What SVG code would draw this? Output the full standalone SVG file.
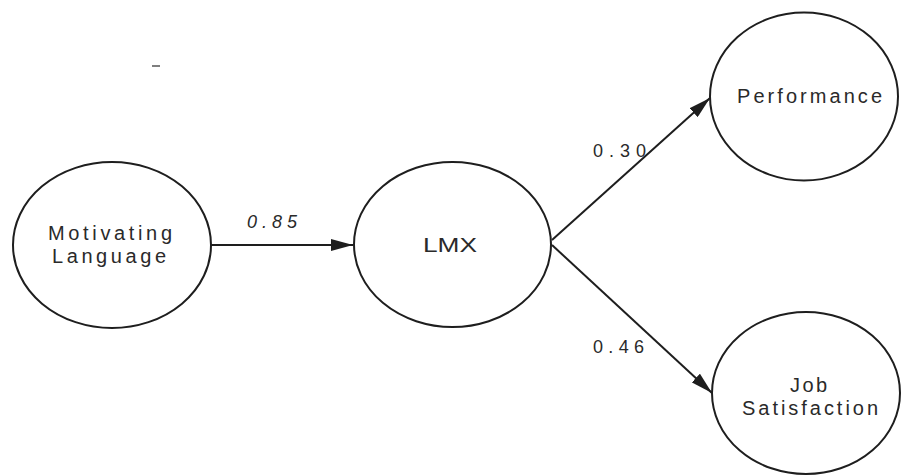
<svg xmlns="http://www.w3.org/2000/svg" width="901" height="476" viewBox="0 0 901 476">
<style>
.node ellipse{fill:none;stroke:#1e1e1e;stroke-width:2}
.lbl{font-family:"Liberation Sans",Arial,sans-serif;fill:#2a2a2a;font-size:20px}
.edge line{stroke:#1e1e1e;stroke-width:2}
.w{font-family:"Liberation Sans",Arial,sans-serif;fill:#2a2a2a;font-size:18px}
</style>
<defs>
<marker id="ah" viewBox="0 0 22 12" refX="22" refY="6" markerWidth="22" markerHeight="12" markerUnits="userSpaceOnUse" orient="auto">
<path d="M0,0 L22,6 L0,12 Z" fill="#1e1e1e"/>
</marker>
</defs>
<rect width="901" height="476" fill="#ffffff"/>
<line x1="152" y1="66" x2="160" y2="66" stroke="#555" stroke-width="1.5"/>
<g id="edges" class="edge">
<line x1="211" y1="245" x2="353" y2="245" marker-end="url(#ah)"/>
<line x1="552" y1="240" x2="710" y2="98" marker-end="url(#ah)"/>
<line x1="552" y1="245" x2="712" y2="393" marker-end="url(#ah)"/>
<text class="w" x="247" y="228" textLength="50" lengthAdjust="spacing" font-style="italic">0.85</text>
<text class="w" x="593" y="157" textLength="53" lengthAdjust="spacing">0.30</text>
<text class="w" x="593" y="353" textLength="51" lengthAdjust="spacing">0.46</text>
</g>
<g id="motivating-language" class="node">
<ellipse cx="112" cy="245" rx="99" ry="83"/>
<text class="lbl" x="48" y="240" textLength="124" lengthAdjust="spacing">Motivating</text>
<text class="lbl" x="52" y="263" textLength="114" lengthAdjust="spacing">Language</text>
</g>
<g id="lmx" class="node">
<ellipse cx="452.5" cy="244.5" rx="98.5" ry="82.5"/>
<text class="lbl" x="423" y="252" font-size="27" textLength="54" lengthAdjust="spacingAndGlyphs">LMX</text>
</g>
<g id="performance" class="node">
<ellipse cx="804" cy="96.5" rx="94" ry="84"/>
<text class="lbl" x="737" y="103" textLength="145" lengthAdjust="spacing">Performance</text>
</g>
<g id="job-satisfaction" class="node">
<ellipse cx="806" cy="393" rx="94" ry="81"/>
<text class="lbl" x="790" y="392" textLength="37" lengthAdjust="spacing">Job</text>
<text class="lbl" x="742" y="415" textLength="136" lengthAdjust="spacing">Satisfaction</text>
</g>
</svg>
